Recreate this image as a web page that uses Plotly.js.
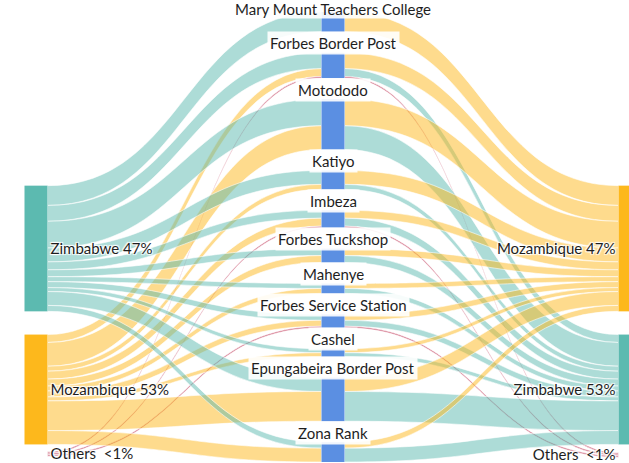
<!DOCTYPE html>
<html><head><meta charset="utf-8">
<script src="https://cdn.plot.ly/plotly-3.0.1.min.js"></script>
<style>html,body{margin:0;padding:0;overflow:hidden;background:#fff}#chart{width:660px;height:463px}</style>
</head><body><div id="chart"></div>
<script>
// ---- data ----
const originNodes = ['Zimbabwe 47%', 'Mozambique 53%', 'Others&nbsp; &lt;1%'];
const places = ['Mary Mount Teachers College', 'Forbes Border Post', 'Motododo', 'Katiyo', 'Imbeza',
  'Forbes Tuckshop', 'Mahenye', 'Forbes Service Station', 'Cashel', 'Epungabeira Border Post', 'Zona Rank'];
const destNodes = ['Mozambique 47%', 'Zimbabwe 53%', 'Others&nbsp; &lt;1%'];

const fromZimbabwe   = [20, 16, 27, 14, 8, 7, 5, 6, 4, 14, 6];
const fromMozambique = [0, 8, 24, 5, 8, 7, 5, 6, 4, 30, 14];
const fromOthers     = [0, 1.5, 0, 0, 1.5, 0, 0, 1.5, 0, 0, 0];
const toMozambique   = [20, 16, 27, 14, 8, 7, 5, 6, 4, 14, 6];
const toZimbabwe     = [0, 8, 24, 5, 8, 7, 5, 6, 4, 30, 14];
const toOthers       = [0, 1.5, 0, 0, 1.5, 0, 0, 1.5, 0, 0, 0];

// ---- layout settings ----
const W = 660, Hpage = 463, mt = 12, mb = 1;
const plotH = Hpage - mt - mb;
const pad = 21, thick = 23;
const colX = [36 / W, 333 / W, 630 / W];
const originCentersPx = [248.5, 389.5, 454];
const destCentersPx = [248.5, 389.5, 455];
const labelOffset = 9.5;

const teal = '#5cbab0', yellow = '#fdb81c', blue = '#5b8fe2', hidden = 'rgba(0,0,0,0)';
const tealLink = 'rgba(92,186,176,0.5)', yellowLink = 'rgba(253,184,28,0.5)', pinkLink = 'rgb(212,118,140)';
const FONT = 'Lato, "Open Sans", sans-serif';

// ---- build sankey ----
const labels = [], nodeColors = [], nodeX = [], nodeY = [];
originNodes.forEach((l, i) => { labels.push(l); nodeColors.push([teal, yellow, hidden][i]); nodeX.push(colX[0]); nodeY.push((originCentersPx[i] - mt) / plotH); });
const nodeVal = places.map((p, i) => Math.max(fromZimbabwe[i] + fromMozambique[i] + fromOthers[i], toMozambique[i] + toZimbabwe[i] + toOthers[i]));
const total = nodeVal.reduce((a, b) => a + b, 0);
const ky = (plotH - (places.length - 1) * pad) / total;
const tops = [];
let acc = 0;
places.forEach((p, i) => { tops.push(acc); labels.push(''); nodeColors.push(blue); nodeX.push(colX[1]); nodeY.push((acc + nodeVal[i] * ky / 2) / plotH); acc += nodeVal[i] * ky + pad; });
destNodes.forEach((l, i) => { labels.push(l); nodeColors.push([yellow, teal, hidden][i]); nodeX.push(colX[2]); nodeY.push((destCentersPx[i] - mt) / plotH); });

const src = [], tgt = [], val = [], lcol = [];
const M = 3, D = 3 + places.length;
function add(s, t, v, c) { if (v > 0) { src.push(s); tgt.push(t); val.push(v); lcol.push(c); } }
places.forEach((p, i) => {
  add(0, M + i, fromZimbabwe[i], tealLink);
  add(1, M + i, fromMozambique[i], yellowLink);
  add(2, M + i, fromOthers[i], pinkLink);
  add(M + i, D + 0, toMozambique[i], yellowLink);
  add(M + i, D + 1, toZimbabwe[i], tealLink);
  add(M + i, D + 2, toOthers[i], pinkLink);
});

const trace = {
  type: 'sankey',
  arrangement: 'fixed',
  domain: { x: [0, 1], y: [0, 1] },
  node: { label: labels, color: nodeColors, x: nodeX, y: nodeY, pad: pad, thickness: thick, line: { width: 0 } },
  link: { source: src, target: tgt, value: val, color: lcol, line: { color: 'rgba(255,255,255,0.95)', width: 0.6 } },
  textfont: { family: FONT, size: 15, color: '#1e1e1e' }
};

const annotations = places.map((p, i) => ({
  xref: 'paper', yref: 'paper', x: colX[1], y: 1 - Math.max(tops[i] - labelOffset, -3) / plotH,
  text: p, showarrow: false, xanchor: 'center', yanchor: 'middle',
  font: { family: FONT, size: 15, color: '#1e1e1e' },
  bgcolor: 'rgba(255,255,255,0.9)', borderpad: i === 0 ? 0 : 2
}));

Plotly.newPlot('chart', [trace], {
  width: W, height: Hpage,
  margin: { l: 0, r: 0, t: mt, b: mb },
  paper_bgcolor: '#fff', plot_bgcolor: '#fff',
  annotations: annotations,
  showlegend: false
}, { displayModeBar: false, staticPlot: true });
</script>
</body></html>
